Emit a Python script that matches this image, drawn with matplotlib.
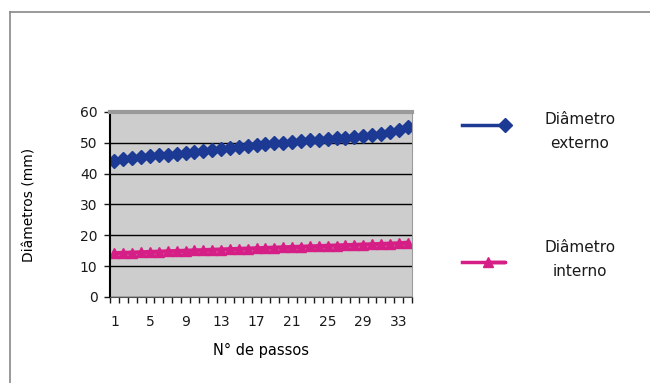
import matplotlib.pyplot as plt
from matplotlib.lines import Line2D

plt.rcParams['font.family'] = ['DejaVu Sans']
plt.rcParams['text.color'] = '#1a1a1a'
plt.rcParams['xtick.color'] = '#1a1a1a'
plt.rcParams['ytick.color'] = '#1a1a1a'

# Diâmetros medidos a cada passo
passos = list(range(1, 35))
externo = [44.2, 44.6, 45.0, 45.3, 45.6, 45.9, 46.2, 46.5, 46.8, 47.1,
           47.4, 47.7, 48.0, 48.3, 48.6, 48.9, 49.2, 49.5, 49.8, 50.0,
           50.3, 50.5, 50.8, 51.0, 51.2, 51.5, 51.7, 51.9, 52.1, 52.4,
           52.8, 53.4, 54.2, 55.1]
interno = [14.2, 14.3, 14.4, 14.5, 14.6, 14.7, 14.8, 14.9, 15.0, 15.1,
           15.2, 15.3, 15.4, 15.5, 15.6, 15.7, 15.8, 15.9, 16.0, 16.1,
           16.2, 16.3, 16.4, 16.5, 16.6, 16.7, 16.8, 16.9, 17.0, 17.1,
           17.2, 17.3, 17.4, 17.6]
x_ticks = [1, 5, 9, 13, 17, 21, 25, 29, 33]
y_ticks = [0, 10, 20, 30, 40, 50, 60]

azul = '#1c3a94'
rosa = '#d61f86'

fig = plt.figure(figsize=(6.5, 3.83), dpi=100)

# moldura externa do gráfico
fig.add_artist(Line2D([10/650, 10/650], [0, 1 - 12/383], color='#888888', lw=1.2))
fig.add_artist(Line2D([10/650, 1], [1 - 12/383, 1 - 12/383], color='#888888', lw=1.2))

ax = fig.add_axes([110/650, 86/383, 302/650, 185/383])
ax.set_facecolor('#cdcdcd')

ax.plot(passos, externo, color=azul, marker='D', markersize=7, lw=2.5)
ax.plot(passos, interno, color=rosa, marker='^', markersize=6.5, lw=3)

ax.set_xlim(0.5, 34.5)
ax.set_ylim(0, 60)
ax.set_yticks(y_ticks)
ax.set_xticks(x_ticks)
ax.set_xticks([i + 0.5 for i in range(0, 35)], minor=True)
ax.grid(axis='y', color='black', lw=1)
ax.set_axisbelow(True)

for lado in ['top', 'right']:
    ax.spines[lado].set_color('#9a9a9a')
ax.spines['top'].set_linewidth(3)
ax.spines['left'].set_color('black')
ax.spines['bottom'].set_color('#555555')
ax.spines['left'].set_linewidth(1.5)

ax.tick_params(axis='y', length=4, width=1, labelsize=10, pad=5)
ax.tick_params(axis='x', which='major', length=0, labelsize=10, pad=13)
ax.tick_params(axis='x', which='minor', length=4, width=1, direction='out')

ax.set_xlabel('N° de passos', fontsize=10.5, labelpad=10)
ax.set_ylabel('Diâmetros (mm)', fontsize=10)
ax.yaxis.set_label_coords(-0.245, 0.5)

# legenda à direita
fig.add_artist(Line2D([462/650, 505/650], [1 - 125/383, 1 - 125/383], color=azul,
                      lw=2.5, marker='D', markersize=7, markevery=[1],
                      transform=fig.transFigure))
fig.add_artist(Line2D([462/650, 505/650, 488/650], [1 - 262/383] * 3, color=rosa,
                      lw=2.5, marker='^', markersize=6.5, markevery=[2],
                      transform=fig.transFigure))
fig.text(580/650, 1 - 132/383, 'Diâmetro\nexterno', ha='center', va='center',
         fontsize=11, linespacing=1.75)
fig.text(580/650, 1 - 260/383, 'Diâmetro\ninterno', ha='center', va='center',
         fontsize=11, linespacing=1.75)

plt.savefig('out.png', dpi=100)
